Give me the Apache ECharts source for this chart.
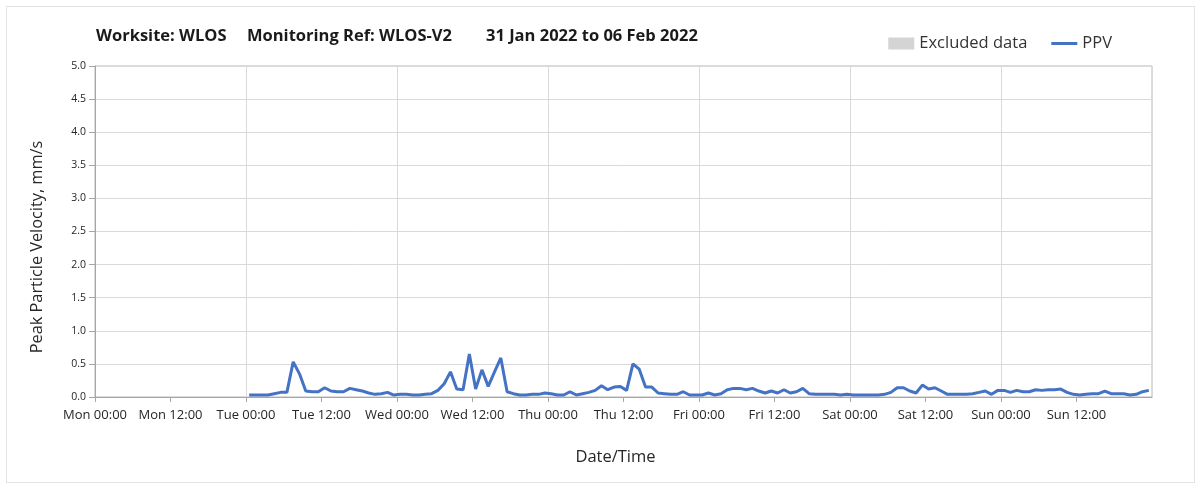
<!DOCTYPE html>
<html>
<head>
<meta charset="utf-8">
<title>PPV monitoring</title>
<script src="https://cdn.jsdelivr.net/npm/echarts@6/dist/echarts.min.js"></script>
<style>
  html, body { margin: 0; padding: 0; background: #ffffff; }
  #frame { position: absolute; left: 6px; top: 6px; width: 1189px; height: 477px; border: 1px solid #e3e3e3; box-sizing: border-box; }
  #chart { position: absolute; left: 0; top: 0; width: 1203px; height: 490px; }
</style>
</head>
<body>
<div id="frame"></div>
<div id="chart"></div>
<script>
// Week of 31 Jan 2022 (Mon 00:00) to 07 Feb 2022 (Mon 00:00), x measured in hours.
const DAY_NAMES = ['Mon', 'Tue', 'Wed', 'Thu', 'Fri', 'Sat', 'Sun'];
const WEEK_HOURS = 168;
const LABEL_STEP = 12;
const GRID_STEP = 24;
const Y_TICKS = [0, 0.5, 1, 1.5, 2, 2.5, 3, 3.5, 4, 4.5, 5];

// Hourly PPV readings (mm/s), first reading at Tue 00:30.
const FIRST_READING_HOUR = 24.5;
const ppvTue = [0.03, 0.03, 0.03, 0.03, 0.05, 0.07, 0.07, 0.53, 0.35, 0.09, 0.08, 0.08,
                0.14, 0.09, 0.08, 0.08, 0.13, 0.11, 0.09, 0.06, 0.04, 0.05, 0.07, 0.03];
const ppvWed = [0.04, 0.04, 0.03, 0.03, 0.04, 0.05, 0.10, 0.20, 0.38, 0.12, 0.11, 0.65,
                0.12, 0.41, 0.16, 0.38, 0.59, 0.08, 0.05, 0.03, 0.03, 0.04, 0.04, 0.06];
const ppvThu = [0.05, 0.03, 0.03, 0.08, 0.03, 0.05, 0.07, 0.10, 0.17, 0.11, 0.15, 0.16,
                0.10, 0.50, 0.42, 0.15, 0.15, 0.06, 0.05, 0.04, 0.04, 0.08, 0.03, 0.03];
const ppvFri = [0.03, 0.06, 0.03, 0.05, 0.11, 0.13, 0.13, 0.11, 0.13, 0.09, 0.06, 0.09,
                0.06, 0.11, 0.06, 0.08, 0.13, 0.05, 0.04, 0.04, 0.04, 0.04, 0.03, 0.04];
const ppvSat = [0.03, 0.03, 0.03, 0.03, 0.03, 0.04, 0.07, 0.14, 0.14, 0.09, 0.06, 0.18,
                0.12, 0.14, 0.09, 0.04, 0.04, 0.04, 0.04, 0.05, 0.07, 0.09, 0.04, 0.10];
const ppvSun = [0.10, 0.07, 0.10, 0.08, 0.08, 0.11, 0.10, 0.11, 0.11, 0.12, 0.07, 0.04,
                0.03, 0.04, 0.05, 0.05, 0.09, 0.05, 0.05, 0.05, 0.03, 0.04, 0.08, 0.10];

// No excluded periods in this week.
const excludedData = [];

const ppv = [].concat(ppvTue, ppvWed, ppvThu, ppvFri, ppvSat, ppvSun);
const ppvPoints = ppv.map((v, i) => [FIRST_READING_HOUR + i, v]);

const FONT = '"Open Sans", "DejaVu Sans", sans-serif';
const TEXT = '#262626';
const PPV_BLUE = '#4472c4';

function hourLabel(h) {
  if (h >= WEEK_HOURS) return '';
  const day = DAY_NAMES[Math.floor(h / 24)];
  const hh = String(h % 24).padStart(2, '0');
  return day + ' ' + hh + ':00';
}

const chart = echarts.init(document.getElementById('chart'), null, { renderer: 'canvas' });

const titleStyle = { fontFamily: FONT, fontSize: 16.5, fontWeight: 'bold', color: '#1a1a1a' };

chart.setOption({
  animation: false,
  backgroundColor: 'transparent',
  title: [
    { text: 'Worksite: WLOS', left: 91, top: 23, textStyle: titleStyle },
    { text: 'Monitoring Ref: WLOS-V2', left: 242, top: 23, textStyle: titleStyle },
    { text: '31 Jan 2022 to 06 Feb 2022', left: 481, top: 23, textStyle: titleStyle }
  ],
  legend: {
    right: 86,
    top: 30,
    itemWidth: 26,
    itemHeight: 12,
    itemGap: 24,
    textStyle: { fontFamily: FONT, fontSize: 16.5, color: '#333' },
    data: [
      { name: 'Excluded data', icon: 'rect' },
      { name: 'PPV', icon: 'path://M0,0 L26,0 L26,3 L0,3 Z' }
    ]
  },
  graphic: [
    {
      type: 'text',
      x: 37,
      y: 247,
      rotation: Math.PI / 2,
      style: {
        text: 'Peak Particle Velocity, mm/s',
        fontFamily: FONT, fontSize: 16.3, fill: TEXT,
        align: 'center', verticalAlign: 'middle'
      }
    }
  ],
  grid: {
    left: 95,
    right: 51,
    top: 66,
    bottom: 93,
    show: true,
    borderColor: '#b8b8b8',
    borderWidth: 1
  },
  xAxis: [
    {
      type: 'value',
      min: 0,
      max: WEEK_HOURS,
      interval: LABEL_STEP,
      axisLine: { show: true, onZero: false, lineStyle: { color: '#a6a6a6', width: 1 } },
      axisTick: { show: true, length: 5, lineStyle: { color: '#a6a6a6' } },
      axisLabel: {
        formatter: hourLabel,
        fontFamily: FONT, fontSize: 13, color: TEXT, margin: 12,
        showMaxLabel: false
      },
      splitLine: { show: false },
      name: 'Date/Time',
      nameLocation: 'middle',
      nameGap: 52,
      nameTextStyle: { fontFamily: FONT, fontSize: 16.5, color: TEXT, padding: [0, 16, 0, 0] }
    },
    {
      type: 'value',
      min: 0,
      max: WEEK_HOURS,
      interval: GRID_STEP,
      position: 'bottom',
      axisLine: { show: false },
      axisTick: { show: false },
      axisLabel: { show: false },
      splitLine: { show: true, lineStyle: { color: '#d9d9d9', width: 1 } }
    }
  ],
  yAxis: {
    type: 'value',
    min: Y_TICKS[0],
    max: Y_TICKS[Y_TICKS.length - 1],
    interval: 0.5,
    axisLine: { show: true, lineStyle: { color: '#a6a6a6', width: 1 } },
    axisTick: { show: true, length: 6, lineStyle: { color: '#a6a6a6' } },
    axisLabel: {
      formatter: v => v.toFixed(1),
      fontFamily: FONT, fontSize: 10.5, color: TEXT, margin: 9
    },
    splitLine: { show: true, lineStyle: { color: '#d9d9d9', width: 1 } }
  },
  series: [
    {
      name: 'Excluded data',
      type: 'bar',
      xAxisIndex: 0,
      itemStyle: { color: '#d4d4d4' },
      data: excludedData
    },
    {
      name: 'PPV',
      type: 'line',
      xAxisIndex: 0,
      symbol: 'none',
      lineStyle: { color: PPV_BLUE, width: 3 },
      itemStyle: { color: PPV_BLUE },
      data: ppvPoints
    }
  ]
});
</script>
</body>
</html>
